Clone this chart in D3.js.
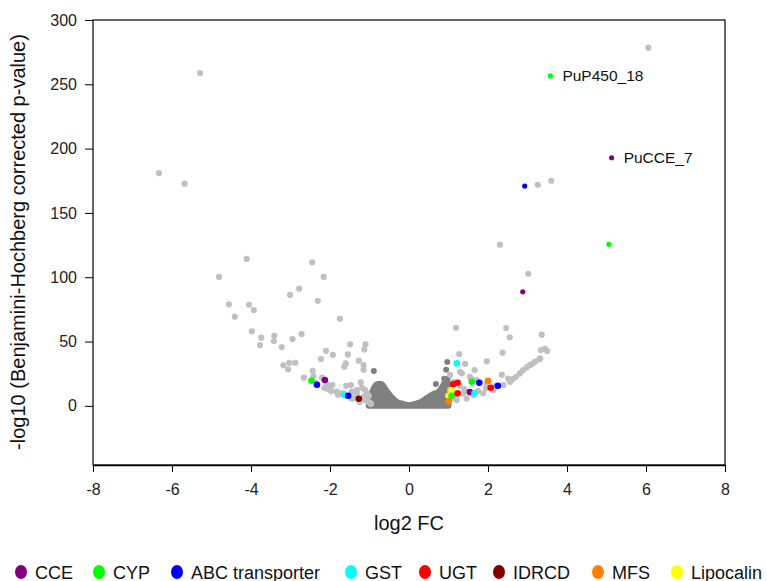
<!DOCTYPE html>
<head>
  <meta charset="utf-8">
  <script src="https://d3js.org/d3.v7.min.js"></script>
  <style>
    body { margin: 0; background: #fff; font-family: "Liberation Sans", Arial, sans-serif; }
    .axis text { font-size: 16px; fill: #222; }
    .axis path, .axis line { stroke: #000; }
  </style>
</head>
<body>
<svg id="chart" width="767" height="581"></svg>
<script>
  // non-significant genes: dense cloud, outline
  const cloudFC  = [-1.02, -0.97, -0.9, -0.8, -0.7, -0.6, -0.45, -0.3, -0.15, 0, 0.15, 0.3, 0.45, 0.6, 0.75, 0.85, 0.92, 0.97, 1.0];
  const cloudTop = [1, 7, 13, 17, 17, 13, 7, 3, 1.5, 0.5, 1.5, 3, 6, 9, 11, 15, 19, 21, 5];
  const darkFC = [-0.89, 0.68, 0.89, 0.94, 0.97];
  const darkP  = [27, 17, 21, 28, 34];

  // significant genes (light grey)
  const sigFC = [-6.33, -5.68, -5.29, -4.11, -2.45, -4.81, -2.16, -2.78, -3.01, -4.56, -4.05, -2.31, -3.93, -4.41, -1.75,
    -3.98, -3.74, -3.77, -3.41, -3.42, -2.95, -2.72, -3.22, -1.49, -1.10, -1.13, -2.10, -1.93, -2.23, -1.55, -1.60, -1.64,
    -1.27, -1.15, -1.15, -3.18, -3.03, -2.88, -3.06, -2.44, -2.42, -2.66, -2.20, -2.09, -2.07, -1.94, -1.83, -1.59, -1.47,
    -1.22, -1.32, -1.45, -1.11, -1.07, -1.14, -1.06, -1.41, -1.75, -2.36, -2.14, -1.97, -1.80, -1.66, -1.45, -1.32, -1.19,
    -1.11, -1.03, -0.98, -2.00, -1.25, -1.02, -0.96,
    3.26, 3.60, 2.30, 3.02, 1.19, 2.46, 2.55, 3.36, 3.44, 3.50, 3.34, 3.30, 1.27, 2.37, 1.97, 1.42, 1.66, 1.29, 2.35, 2.51,
    1.57, 1.04, 1.71, 1.97, 2.18, 2.71, 2.89, 3.06, 3.19, 2.81, 2.98, 3.11, 1.12, 1.37, 1.63, 1.88, 2.14, 2.39, 2.56, 1.21,
    1.46, 1.04, 1.12, 1.34, 1.54, 3.32, 2.63, 1.95, 1.75, 1.29, 1.15, 1.40, 6.06];
  const sigP = [181.0, 172.7, 258.8, 114.2, 111.6, 100.2, 100.2, 91.1, 86.2, 78.9, 78.6, 81.7, 74.5, 69.3, 67.7,
    57.9, 53.0, 47.3, 54.5, 50.4, 51.9, 55.8, 45.7, 47.8, 47.8, 43.9, 42.8, 39.7, 36.4, 40.0, 33.0, 30.4,
    35.1, 31.7, 28.1, 31.5, 33.5, 33.5, 28.4, 27.3, 23.2, 21.9, 21.9, 17.0, 13.3, 16.2, 11.0, 15.6, 16.2,
    18.3, 12.3, 11.0, 12.3, 9.7, 7.1, 5.1, 5.8, 9.7, 18.0, 14.0, 11.4, 8.7, 9.7, 5.8, 9.7, 14.0,
    4.5, 3.2, 2.1, 14.9, 3.0, 8.0, 1.5,
    171.9, 175.0, 125.3, 102.7, 60.7, 60.5, 53.3, 55.3, 44.4, 42.6, 43.4, 36.2, 40.3, 41.3, 34.6, 32.7, 27.8, 26.5, 24.2, 21.1,
    21.4, 24.0, 20.1, 17.5, 14.9, 22.6, 27.8, 31.7, 34.3, 25.3, 29.9, 32.5, 9.7, 9.7, 8.4, 9.7, 12.3, 16.2, 18.7, 4.5,
    5.8, 12.3, 18.7, 25.3, 22.6, 36.9, 20.8, 13.8, 11.5, 15.4, 6.0, 13.0, 278.5];

  // detoxification genes by family
  const geneFC = [-2.47, -2.33, -2.13, -1.64, -1.54, -1.27,
    2.93, 5.06, 2.88, 1.21, 1.12, 1.23, 1.08, 1.00, 1.08, 1.01, 1.23, 1.59, 1.78, 2.00, 1.54, 1.66, 2.07, 2.25,
    3.58, 5.13];
  const geneP = [19.5, 16.4, 20.1, 8.4, 7.9, 5.5,
    170.9, 125.6, 88.7, 33.0, 16.7, 18.0, 12.1, 7.9, 7.9, 3.5, 9.7, 18.7, 18.0, 19.5, 10.7, 9.7, 14.1, 15.6,
    256.5, 192.9];
  const geneFamily = ["CYP", "ABC transporter", "CCE", "GST", "ABC transporter", "IDRCD",
    "ABC transporter", "CYP", "CCE", "GST", "UGT", "UGT", "Lipocalin", "Lipocalin", "CYP", "MFS", "UGT", "CYP",
    "ABC transporter", "MFS", "CCE", "GST", "UGT", "ABC transporter",
    "CYP", "CCE"];
  const geneLabel = ["", "", "", "", "", "", "", "", "", "", "", "", "", "", "", "", "", "", "", "", "", "", "", "",
    "PuP450_18", "PuCCE_7"];
  const smallDot = [6, 7, 8, 24, 25];

  const families = ["CCE", "CYP", "ABC transporter", "GST", "UGT", "IDRCD", "MFS", "Lipocalin"];
  const familyColors = ["#800080", "#00ff00", "#0000ff", "#00ffff", "#ff0000", "#800000", "#ff8000", "#ffff00"];
  const legendX = [21, 99, 177, 351, 425, 499, 598, 677];

  const xTicks = [-8, -6, -4, -2, 0, 2, 4, 6, 8];
  const yTicks = [0, 50, 100, 150, 200, 250, 300];

  const svg = d3.select('#chart');
  const x = d3.scaleLinear().domain([-8, 8]).range([93, 725]);
  const y = d3.scaleLinear().domain([-46, 300]).range([465, 20]);
  const color = d3.scaleOrdinal().domain(families).range(familyColors);

  // frame
  svg.append('rect')
    .attr('x', 93).attr('y', 20).attr('width', 632).attr('height', 445)
    .attr('fill', 'none').attr('stroke', '#000').attr('stroke-width', 1.2);

  svg.append('g').attr('class', 'axis')
    .attr('transform', 'translate(0,465)')
    .call(d3.axisBottom(x).tickValues(xTicks).tickFormat(d => String(d)).tickSize(7).tickPadding(12).tickSizeOuter(0))
    .call(g => g.select('.domain').attr('stroke', '#444').attr('stroke-width', 1.6));

  svg.append('g').attr('class', 'axis')
    .attr('transform', 'translate(93,0)')
    .call(d3.axisLeft(y).tickValues(yTicks).tickFormat(d => String(d)).tickSize(8).tickPadding(8).tickSizeOuter(0))
    .call(g => g.select('.domain').remove());

  // dense cloud of non-significant genes
  const cloud = cloudFC.map((d, i) => [d, cloudTop[i]]);
  svg.append('path')
    .datum(cloud)
    .attr('d', d3.area().x(d => x(d[0])).y0(y(0)).y1(d => y(d[1])).curve(d3.curveMonotoneX))
    .attr('fill', '#808080').attr('stroke', '#808080')
    .attr('stroke-width', 6).attr('stroke-linejoin', 'round');

  svg.append('g').selectAll('circle')
    .data(darkFC)
    .join('circle')
    .attr('cx', d => x(d)).attr('cy', (d, i) => y(darkP[i])).attr('r', 3)
    .attr('fill', '#808080');

  svg.append('g').selectAll('circle')
    .data(sigFC)
    .join('circle')
    .attr('cx', d => x(d)).attr('cy', (d, i) => y(sigP[i])).attr('r', 3.1)
    .attr('fill', '#c0c0c0');

  svg.append('g').selectAll('circle')
    .data(geneFC)
    .join('circle')
    .attr('cx', d => x(d)).attr('cy', (d, i) => y(geneP[i]))
    .attr('r', (d, i) => smallDot.includes(i) ? 2.6 : 3.3)
    .attr('fill', (d, i) => color(geneFamily[i]));

  svg.append('g').selectAll('text')
    .data(geneFC)
    .join('text')
    .attr('x', d => x(d) + 12).attr('y', (d, i) => y(geneP[i]) + 5)
    .attr('font-size', 15.5).attr('fill', '#111')
    .text((d, i) => geneLabel[i]);

  // axis titles
  svg.append('text')
    .attr('x', 409).attr('y', 530).attr('text-anchor', 'middle')
    .attr('font-size', 20).attr('fill', '#111')
    .text('log2 FC');

  svg.append('text')
    .attr('transform', 'translate(25,242) rotate(-90)').attr('text-anchor', 'middle')
    .attr('font-size', 20).attr('fill', '#111')
    .text('-log10 (Benjamini-Hochberg corrected p-value)');

  // legend
  const leg = svg.append('g').selectAll('g')
    .data(families)
    .join('g')
    .attr('transform', (d, i) => `translate(${legendX[i]},572)`);
  leg.append('ellipse').attr('rx', 6).attr('ry', 7).attr('fill', d => color(d));
  leg.append('text').attr('x', 14).attr('y', 6.5)
    .attr('font-size', 18).attr('fill', '#111')
    .text(d => d);
</script>
</body>
